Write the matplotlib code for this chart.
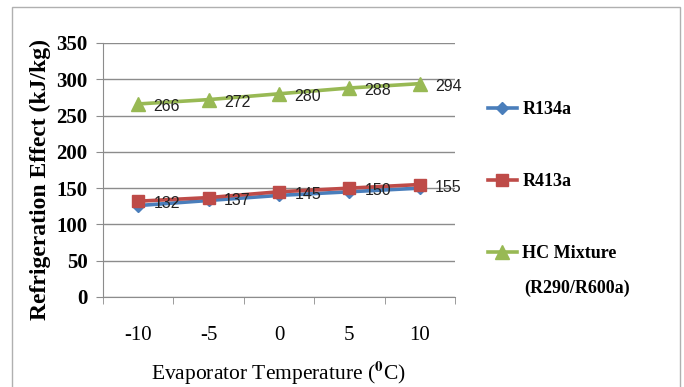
import matplotlib
matplotlib.use("Agg")
import matplotlib.pyplot as plt
from matplotlib.patches import Rectangle

# data
temps = ["-10", "-5", "0", "5", "10"]
r134a = [126, 133, 140, 145, 150]
r413a = [132, 137, 145, 150, 155]
hc_mix = [266, 272, 280, 288, 294]

series = [
    ("R134a", r134a, "#4A7EBB", "D", 6, False),
    ("R413a", r413a, "#BE4B48", "s", 9, True),
    ("HC Mixture", hc_mix, "#98B954", "^", 10, True),
]

plt.rcParams["mathtext.fontset"] = "stix"
serif = "Liberation Serif"

fig = plt.figure(figsize=(6.84, 3.87), dpi=100)
ax = fig.add_axes([103 / 684, 1 - 297 / 387, 352 / 684, 254 / 387])

x = list(range(len(temps)))
for name, vals, color, marker, ms, show_labels in series:
    ax.plot(x, vals, color=color, lw=2.6, marker=marker, ms=ms,
            markeredgecolor=color, label=name, zorder=3)
    if show_labels:
        for xi, v in zip(x, vals):
            ax.annotate(str(v), (xi, v), xytext=(11, -2), textcoords="offset points",
                        ha="left", va="center", fontsize=11.5,
                        family="Liberation Sans", color="#222222", zorder=4)

ax.set_xlim(-0.5, len(temps) - 0.5)
ax.set_ylim(0, 350)
ax.set_yticks(range(0, 351, 50))
ax.grid(axis="y", color="#8c8c8c", lw=1)
ax.set_axisbelow(True)

ax.set_xticks(x)
ax.set_xticklabels(temps, family=serif, fontsize=15)
ax.set_xticks([i - 0.5 for i in range(len(temps) + 1)], minor=True)
ax.tick_params(axis="x", which="major", length=0, pad=21)
ax.tick_params(axis="x", which="minor", length=5, color="#8c8c8c", direction="out")
ax.tick_params(axis="y", length=5, color="#8c8c8c", pad=6)
for lbl in ax.get_yticklabels():
    lbl.set_family(serif)
    lbl.set_fontsize(15)
    lbl.set_fontweight("bold")

for side in ["top", "right"]:
    ax.spines[side].set_visible(False)
for side in ["left", "bottom"]:
    ax.spines[side].set_color("#8c8c8c")

fig.text(40 / 684, 1 - 179 / 387, "Refrigeration Effect (kJ/kg)", rotation=90,
         ha="center", va="center", family=serif, fontsize=17, fontweight="bold")
fig.text(278 / 684, 1 - 373 / 387, r"Evaporator Temperature ($^{\mathbf{0}}$C)",
         ha="center", va="center", family=serif, fontsize=15.5)

leg = ax.legend(loc="upper left", bbox_to_anchor=(488 / 684, 1 - 101 / 387),
                bbox_transform=fig.transFigure, frameon=False,
                prop={"family": serif, "size": 13, "weight": "bold"},
                handlelength=1.6, handletextpad=0.3, labelspacing=3.05,
                borderpad=0, borderaxespad=0)
fig.text(524 / 684, 1 - 288 / 387, "(R290/R600a)", ha="left", va="center",
         family=serif, fontsize=13, fontweight="bold")

fig.patches.append(Rectangle((12 / 684, -0.1), 668 / 684, 1.1 - 7 / 387,
                             transform=fig.transFigure, fill=False,
                             edgecolor="#b0b0b0", lw=1))

fig.savefig("out.png", dpi=100)
